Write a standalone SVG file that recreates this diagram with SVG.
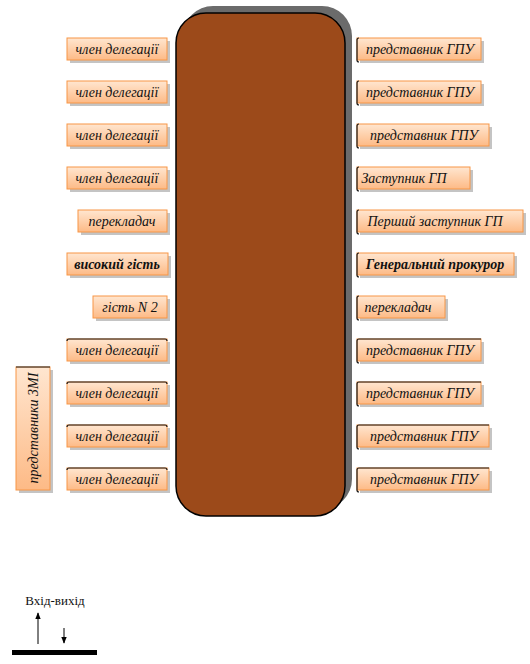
<svg xmlns="http://www.w3.org/2000/svg" width="530" height="664" viewBox="0 0 530 664">
<style>
.box{fill:url(#g);stroke:#F79646;stroke-width:1}
.sh{fill:#C4C4C4}
.edge{fill:none;stroke:#1a1a1a;stroke-width:1.2}
.t{font-family:"Liberation Serif",serif;font-style:italic;font-size:14px;fill:#111;text-anchor:middle}
.b{font-weight:bold}
</style>
<defs>
<linearGradient id="g" x1="0" y1="0" x2="0" y2="1">
<stop offset="0" stop-color="#FFE6D0"/>
<stop offset="1" stop-color="#FDBA86"/>
</linearGradient>
<marker id="ah" viewBox="0 0 10 10" refX="9" refY="5" markerWidth="7" markerHeight="7" orient="auto">
<path d="M0,1 L10,5 L0,9 z" fill="#000"/>
</marker>
</defs>

<g id="table">
<rect x="183" y="6" width="169" height="503" rx="30" fill="#6B6B6B"/>
<rect x="176" y="13" width="169" height="503" rx="30" fill="#9C4A1A" stroke="#000" stroke-width="1.5"/>
</g>

<g id="l1"><rect class="sh" x="70" y="41" width="100" height="22"/><rect class="box" x="67" y="38" width="100" height="22"/><text class="t" x="117" y="54">член делегації</text></g>
<g id="l2"><rect class="sh" x="70" y="84" width="100" height="22"/><rect class="box" x="67" y="81" width="100" height="22"/><text class="t" x="117" y="97">член делегації</text></g>
<g id="l3"><rect class="sh" x="70" y="127" width="100" height="22"/><rect class="box" x="67" y="124" width="100" height="22"/><text class="t" x="117" y="140">член делегації</text></g>
<g id="l4"><rect class="sh" x="70" y="170" width="100" height="22"/><rect class="box" x="67" y="167" width="100" height="22"/><text class="t" x="117" y="183">член делегації</text></g>
<g id="l5"><rect class="sh" x="81" y="213" width="89" height="22"/><rect class="box" x="78" y="210" width="89" height="22"/><text class="t" x="122" y="226">перекладач</text></g>
<g id="l6"><rect class="sh" x="70" y="256" width="101" height="22"/><rect class="box" x="67" y="253" width="101" height="22"/><text class="t b" x="117" y="269">високий гість</text></g>
<g id="l7"><rect class="sh" x="96" y="299" width="74" height="22"/><rect class="box" x="93" y="296" width="74" height="22"/><text class="t" x="130" y="312">гість N 2</text></g>
<g id="l8"><rect class="sh" x="70" y="342" width="100" height="22"/><rect class="box" x="67" y="339" width="100" height="22"/><path class="edge" d="M67,341 Q67,339 69,339 L165,339 Q167,339 167,341"/><text class="t" x="117" y="355">член делегації</text></g>
<g id="l9"><rect class="sh" x="70" y="385" width="100" height="22"/><rect class="box" x="67" y="382" width="100" height="22"/><path class="edge" d="M67,384 Q67,382 69,382 L165,382 Q167,382 167,384"/><text class="t" x="117" y="398">член делегації</text></g>
<g id="l10"><rect class="sh" x="70" y="428" width="100" height="22"/><rect class="box" x="67" y="425" width="100" height="22"/><path class="edge" d="M67,427 Q67,425 69,425 L165,425 Q167,425 167,427"/><text class="t" x="117" y="441">член делегації</text></g>
<g id="l11"><rect class="sh" x="70" y="471" width="100" height="22"/><rect class="box" x="67" y="468" width="100" height="22"/><path class="edge" d="M67,470 Q67,468 69,468 L165,468 Q167,468 167,470"/><text class="t" x="117" y="484">член делегації</text></g>

<g id="media"><rect class="sh" x="19" y="370" width="34" height="123"/><rect class="box" x="16" y="367" width="34" height="123"/><path class="edge" d="M16,367 L50,367"/><text class="t" transform="translate(38,428) rotate(-90)">представники ЗМІ</text></g>

<g id="r1"><rect class="sh" x="360" y="41" width="124" height="22"/><rect class="box" x="357" y="38" width="124" height="22"/><path class="edge" d="M359,62 Q357,62 357,60 L357,40 Q357,38 359,38"/><text class="t" x="420" y="54">представник ГПУ</text></g>
<g id="r2"><rect class="sh" x="360" y="84" width="124" height="22"/><rect class="box" x="357" y="81" width="124" height="22"/><path class="edge" d="M359,105 Q357,105 357,103 L357,83 Q357,81 359,81"/><text class="t" x="420" y="97">представник ГПУ</text></g>
<g id="r3"><rect class="sh" x="360" y="127" width="132" height="22"/><rect class="box" x="357" y="124" width="132" height="22"/><path class="edge" d="M359,148 Q357,148 357,146 L357,126 Q357,124 359,124"/><text class="t" x="424" y="140">представник ГПУ</text></g>
<g id="r4"><rect class="sh" x="360" y="170" width="113" height="22"/><rect class="box" x="357" y="167" width="113" height="22"/><path class="edge" d="M359,191 Q357,191 357,189 L357,169 Q357,167 359,167"/><text class="t" x="404" y="183">Заступник ГП</text></g>
<g id="r5"><rect class="sh" x="360" y="213" width="166" height="22"/><rect class="box" x="357" y="210" width="166" height="22"/><path class="edge" d="M359,234 Q357,234 357,232 L357,212 Q357,210 359,210"/><text class="t" x="435" y="226">Перший заступник ГП</text></g>
<g id="r6"><rect class="sh" x="360" y="256" width="157" height="22"/><rect class="box" x="357" y="253" width="157" height="22"/><path class="edge" d="M359,277 Q357,277 357,275 L357,255 Q357,253 359,253"/><text class="t b" x="435" y="269">Генеральний прокурор</text></g>
<g id="r7"><rect class="sh" x="360" y="299" width="88" height="22"/><rect class="box" x="357" y="296" width="88" height="22"/><path class="edge" d="M359,320 Q357,320 357,318 L357,298 Q357,296 359,296"/><text class="t" x="398" y="312">перекладач</text></g>
<g id="r8"><rect class="sh" x="360" y="342" width="124" height="22"/><rect class="box" x="357" y="339" width="124" height="22"/><path class="edge" d="M359,363 Q357,363 357,361 L357,341 Q357,339 359,339 L481,339"/><text class="t" x="420" y="355">представник ГПУ</text></g>
<g id="r9"><rect class="sh" x="360" y="385" width="124" height="22"/><rect class="box" x="357" y="382" width="124" height="22"/><path class="edge" d="M359,406 Q357,406 357,404 L357,384 Q357,382 359,382 L481,382"/><text class="t" x="420" y="398">представник ГПУ</text></g>
<g id="r10"><rect class="sh" x="360" y="428" width="132" height="22"/><rect class="box" x="357" y="425" width="132" height="22"/><path class="edge" d="M359,449 Q357,449 357,447 L357,427 Q357,425 359,425 L489,425"/><text class="t" x="424" y="441">представник ГПУ</text></g>
<g id="r11"><rect class="sh" x="360" y="471" width="132" height="22"/><rect class="box" x="357" y="468" width="132" height="22"/><path class="edge" d="M359,492 Q357,492 357,490 L357,470 Q357,468 359,468 L489,468"/><text class="t" x="424" y="484">представник ГПУ</text></g>

<g id="entrance">
<text x="55" y="605" font-family="Liberation Serif,serif" font-size="13" text-anchor="middle" fill="#111">Вхід-вихід</text>
<rect x="12" y="650" width="85" height="5" fill="#000"/>
</g>
<g id="connectors">
<line x1="38" y1="644" x2="38" y2="613" stroke="#000" stroke-width="1" marker-end="url(#ah)"/>
<line x1="64" y1="628" x2="64" y2="643" stroke="#000" stroke-width="1" marker-end="url(#ah)"/>
</g>
</svg>
